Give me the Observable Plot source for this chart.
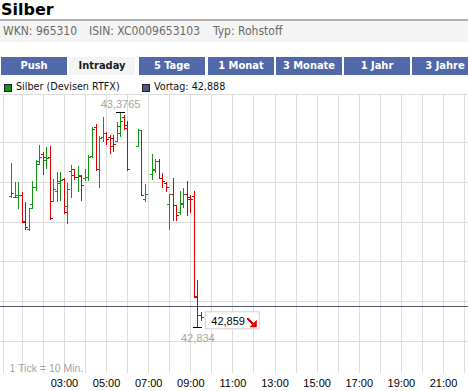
<!DOCTYPE html>
<html><head><meta charset="utf-8">
<script src="https://cdn.jsdelivr.net/npm/d3@7"></script>
<script src="https://cdn.jsdelivr.net/npm/@observablehq/plot@0.6"></script>
<style>
html,body{margin:0;padding:0;background:#fff;}
body{width:468px;height:391px;overflow:hidden;position:relative;font-family:"DejaVu Sans Condensed","DejaVu Sans",sans-serif;font-stretch:condensed;}
#title{position:absolute;left:1px;top:0;font:bold 16px "DejaVu Sans",sans-serif;font-stretch:normal;line-height:20px;color:#000;}
#info{position:absolute;left:0;top:19px;width:468px;height:21px;border-top:2px solid #b2b2b2;background:#f4f4f4;}
#info span{position:absolute;top:0;font-size:12px;line-height:21px;color:#6a6a6a;white-space:nowrap;}
.tab{position:absolute;top:57px;width:66px;height:18px;line-height:18px;text-align:center;font-weight:bold;font-size:11px;color:#fff;background:#5168a9;white-space:nowrap;}
.tab.active{background:#f4f4f4;color:#1a1a1a;}
.leg{position:absolute;top:84px;width:6px;height:6px;border:1px solid #222;}
.legt{position:absolute;top:80px;font-size:10.7px;line-height:14px;color:#111;white-space:nowrap;}
#chart{position:absolute;left:0;top:94px;}
#chart svg line{shape-rendering:crispEdges;}
</style>
</head><body>
<div id="title"></div>
<div id="info"></div>
<div id="tabs"></div>
<div id="legend"></div>
<div id="chart"></div>
<script>
// ---- header content ----
const titleText = "Silber";
const infoItems = ["WKN: 965310", "ISIN: XC0009653103", "Typ: Rohstoff"];
const tabLabels = ["Push", "Intraday", "5 Tage", "1 Monat", "3 Monate", "1 Jahr", "3 Jahre"];
const activeTab = "Intraday";
const seriesName = "Silber (Devisen RTFX)";
const vortagLabel = "Vortag";

// ---- OHLC data (10-minute bars) ----
const barTimes = ["00:30","00:40","00:50","01:00","01:10","01:20","01:30","01:40","01:50","02:00","02:10","02:20","02:30","02:40","02:50","03:00","03:10","03:20","03:30","03:40","03:50","04:00","04:10","04:20","04:30","04:40","04:50","05:00","05:10","05:20","05:30","05:40","05:50","06:00","06:30","06:40","06:50","07:10","07:20","07:30","07:40","07:50","08:00","08:10","08:20","08:30","08:40","08:50","09:00","09:10","09:20","09:30"];
const barOpen  = [43.164,43.162,43.161,43.166,43.101,43.081,43.144,43.186,43.244,43.270,43.254,43.262,43.151,43.176,43.196,43.207,43.139,43.227,43.217,43.212,43.214,43.209,43.212,43.264,43.337,43.232,43.312,43.322,43.312,43.310,43.302,43.322,43.363,43.343,43.290,43.330,43.156,43.219,43.229,43.252,43.209,43.196,43.144,43.169,43.141,43.123,43.146,43.169,43.161,43.164,42.909,42.864];
const barHigh  = [43.247,43.200,43.199,43.173,43.149,43.135,43.202,43.254,43.292,43.276,43.288,43.290,43.208,43.224,43.224,43.209,43.196,43.242,43.232,43.240,43.217,43.232,43.268,43.339,43.345,43.314,43.362,43.325,43.317,43.317,43.350,43.3765,43.368,43.354,43.334,43.331,43.194,43.270,43.257,43.257,43.222,43.199,43.170,43.209,43.142,43.176,43.184,43.203,43.166,43.176,42.953,42.872];
const barLow   = [43.160,43.160,43.132,43.096,43.079,43.076,43.132,43.178,43.241,43.218,43.232,43.103,43.148,43.150,43.151,43.120,43.094,43.159,43.204,43.175,43.151,43.202,43.202,43.261,43.228,43.184,43.300,43.292,43.270,43.275,43.299,43.312,43.329,43.228,43.287,43.164,43.149,43.205,43.222,43.207,43.185,43.175,43.079,43.101,43.101,43.116,43.135,43.113,43.121,42.908,42.834,42.850];
const barClose = [43.171,43.166,43.166,43.098,43.086,43.134,43.186,43.252,43.262,43.262,43.259,43.108,43.181,43.202,43.204,43.123,43.181,43.232,43.212,43.217,43.191,43.212,43.262,43.332,43.232,43.310,43.322,43.307,43.290,43.295,43.340,43.353,43.335,43.232,43.330,43.166,43.169,43.232,43.252,43.209,43.202,43.186,43.169,43.141,43.116,43.144,43.169,43.156,43.156,42.913,42.864,42.859];
const vortag = 42.888;

// ---- axes ----
const gridHours = d3.range(1, 23);
const labelHours = [3, 5, 7, 9, 11, 13, 15, 17, 19, 21];
const gridPrices = [42.8, 42.9, 43.0, 43.1, 43.2, 43.3];
const xDomain = [-0.035, 22.187];
const yDomain = [42.7189, 43.4208];
const chartStartHour = 0.117;
const tickNote = "1 Tick = 10 Min.";

const GREEN = "#139413", RED = "#dd0000", GRID = "#dcdcdc", VORTAG = "#55557c", LABEL = "#a4a4a4";

// ---- header ----
d3.select("#title").text(titleText);
const infoX = [3, 89, 213];
d3.select("#info").selectAll("span").data(infoItems).join("span")
  .style("left", (d, i) => infoX[i] + "px").text(d => d);
const tabLeft = [1, 69, 139, 208, 276, 344, 412];
d3.select("#tabs").selectAll("div").data(tabLabels).join("div")
  .attr("class", d => "tab" + (d === activeTab ? " active" : ""))
  .style("left", (d, i) => tabLeft[i] + "px").text(d => d);
const fmtDe = v => String(v).replace(".", ",");
const legItems = [
  {color: GREEN, text: seriesName, x: 4},
  {color: VORTAG, text: vortagLabel + ": " + fmtDe(vortag), x: 142}
];
const lg = d3.select("#legend");
legItems.forEach(it => {
  lg.append("div").attr("class", "leg").style("left", it.x + "px").style("background", it.color);
  lg.append("div").attr("class", "legt").style("left", (it.x + 12) + "px").text(it.text);
});

// ---- chart ----
const parseHour = s => { const [h, m] = s.split(":").map(Number); return h + m / 60; };
const bars = barTimes.map((s, i) => ({t: parseHour(s), open: barOpen[i], high: barHigh[i], low: barLow[i], close: barClose[i]}));
const barColor = d => d.close >= d.open ? GREEN : RED;
const hiBar = bars.reduce((a, b) => b.high > a.high ? b : a);
const loBar = bars.reduce((a, b) => b.low < a.low ? b : a);
const lastBar = bars[bars.length - 1];
const pxPerHour = 21.06;
const openW = 2 / pxPerHour, closeW = 3 / pxPerHour, extW = 4.5 / pxPerHour;

const chart = Plot.plot({
  width: 468, height: 297,
  marginLeft: 0, marginRight: 0, marginTop: 0, marginBottom: 18,
  x: {type: "linear", domain: xDomain, axis: null, label: null},
  y: {domain: yDomain, axis: null, label: null},
  color: {type: "identity"},
  style: {fontFamily: "'Liberation Sans', Arial, sans-serif", fontSize: "11px", color: "#000", background: "transparent", overflow: "visible"},
  marks: [
    Plot.ruleX(gridHours, {stroke: GRID}),
    Plot.ruleY(gridPrices, {stroke: GRID}),
    Plot.ruleX([chartStartHour], {stroke: GRID}),
    Plot.ruleY([yDomain[1]], {stroke: GRID}),
    Plot.axisX(labelHours, {tickSize: 0, tickPadding: 6, fontSize: 11, fill: "#000", label: null,
      tickFormat: h => String(h).padStart(2, "0") + ":00"}),
    Plot.text([tickNote], {frameAnchor: "bottom-left", dx: 9, dy: -4.5, lineAnchor: "middle", textAnchor: "start", fill: LABEL, fontSize: 10.5}),
    Plot.ruleY([vortag], {stroke: VORTAG}),
    Plot.ruleX(bars, {x: "t", y1: "low", y2: "high", stroke: barColor}),
    Plot.ruleY(bars, {y: "open", x1: d => d.t - openW, x2: "t", stroke: barColor}),
    Plot.ruleY(bars, {y: "close", x1: "t", x2: d => d.t + closeW, stroke: barColor}),
    Plot.ruleY([hiBar], {y: "high", x1: d => d.t - extW, x2: d => d.t + extW, stroke: "#000"}),
    Plot.ruleY([loBar], {y: "low", x1: d => d.t - extW, x2: d => d.t + extW, stroke: "#000"}),
    Plot.text([hiBar], {x: "t", y: "high", text: d => fmtDe(d.high), dy: -8, fill: LABEL, fontSize: 11}),
    Plot.text([loBar], {x: "t", y: "low", text: d => fmtDe(d.low), dy: 10.5, fill: LABEL, fontSize: 11}),
    Plot.text([lastBar], {x: "t", y: "close", text: d => fmtDe(d.close), dx: 10, dy: 3.5, textAnchor: "start", fill: "#000", fontSize: 11})
  ]
});
document.getElementById("chart").appendChild(chart);

// last-price box and trend arrow, positioned through the plot's scales
const sx = chart.scale("x"), sy = chart.scale("y");
const bx = sx.apply(lastBar.t) + 0.5, by = sy.apply(lastBar.close) + 0.5;
const svg = d3.select(chart);
const lastText = svg.selectAll("text").filter(function() { return this.textContent === fmtDe(lastBar.close); }).node();
const boxG = document.createElementNS("http://www.w3.org/2000/svg", "g");
lastText.parentNode.parentNode.insertBefore(boxG, lastText.parentNode);
const bg = d3.select(boxG);
bg.append("rect").attr("x", bx + 4).attr("y", by - 6).attr("width", 54).attr("height", 17)
  .attr("fill", "#fff").attr("stroke", "#d0d0d0");
const ag = svg.append("g").attr("fill", RED).attr("stroke", RED);
ag.append("line").attr("x1", bx + 46).attr("y1", by + 0.5).attr("x2", bx + 52).attr("y2", by + 6.5).attr("stroke-width", 2);
ag.append("path").attr("stroke", "none")
  .attr("d", `M${bx + 55.5},${by + 2}L${bx + 55.5},${by + 9.5}L${bx + 48},${by + 9.5}Z`);
</script>
</body></html>
